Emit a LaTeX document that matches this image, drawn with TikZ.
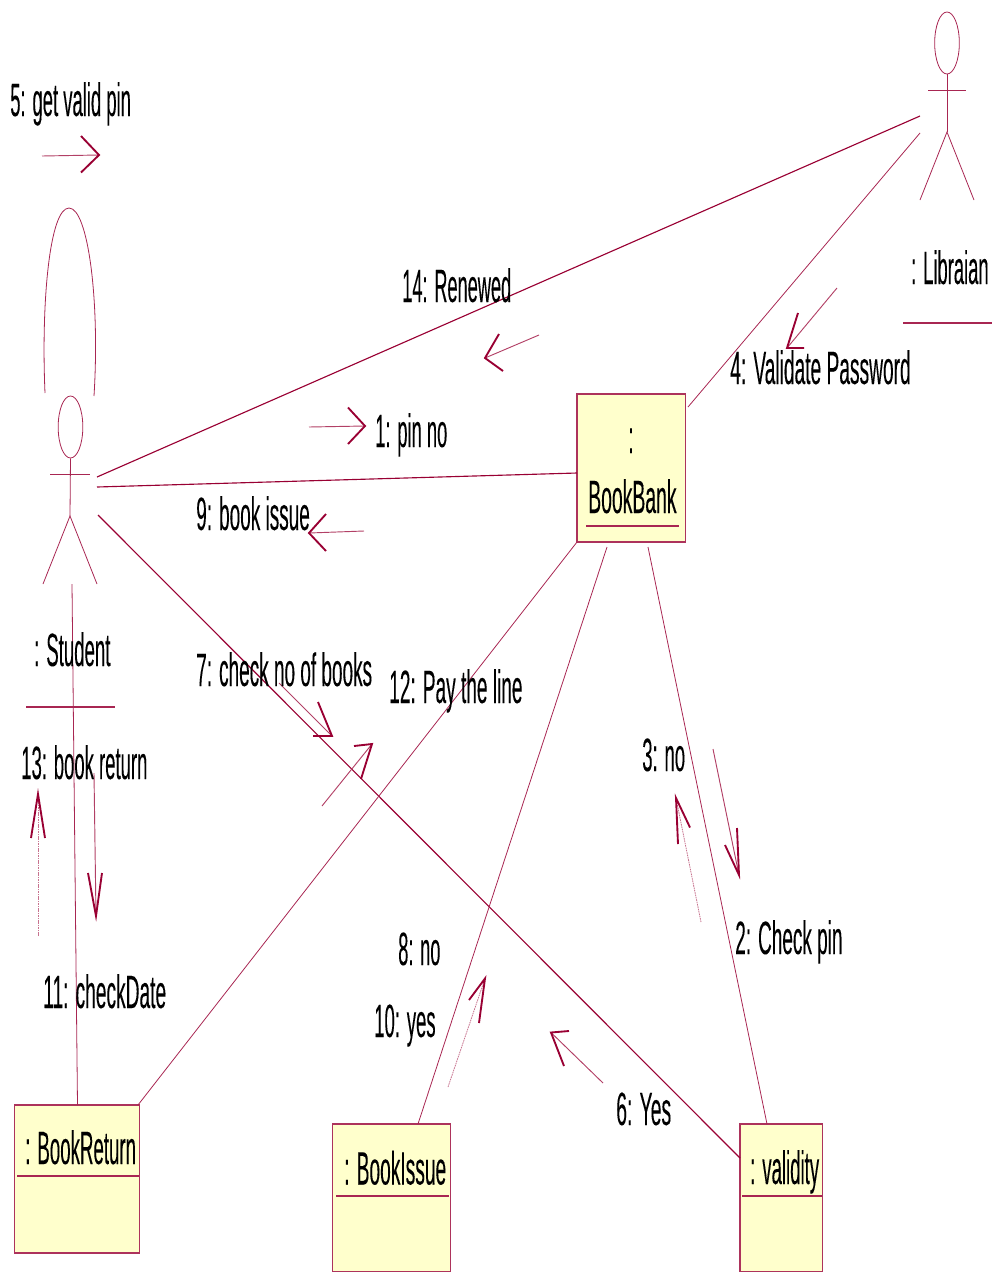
\documentclass[tikz,border=0pt]{standalone}
\usepackage{fontspec}
\usetikzlibrary{shapes.geometric}
\setmainfont[FakeStretch=0.415,FakeBold=0.12]{Liberation Sans}
\definecolor{umlred}{HTML}{990033}
\definecolor{umlfill}{HTML}{FFFFCC}
\newcommand{\msgarrow}[6][msgshaft]{%
  \coordinate (#2s) at (#3);
  \coordinate (#2t) at (#4);
  \coordinate (#2a) at (#5);
  \coordinate (#2b) at (#6);
  \draw[#1] (#2s) -- (#2t);
  \draw[barb] (#2a) -- (#2t) -- (#2b);
}
\newcommand{\sx}[2]{\scalebox{#1}[1]{#2}}
\tikzset{
  assoc/.style={draw=umlred,line width=0.85pt},
  thinassoc/.style={draw=umlred!85,line width=0.6pt},
  msgshaft/.style={draw=umlred!75,line width=0.7pt},
  msgdot/.style={draw=umlred!55,line width=0.6pt,dash pattern=on 1.2pt off 0.6pt},
  barb/.style={draw=umlred,line width=1.4pt,line join=miter},
  objbox/.style={draw=umlred!80,fill=umlfill,line width=0.9pt,inner sep=0pt,minimum height=111pt,rectangle},
  lab/.style={anchor=base west,inner sep=0pt,font=\fontsize{35}{35}\selectfont,text=black},
  uline/.style={draw=umlred!85,line width=1pt},
  actorline/.style={draw=umlred!85,line width=0.6pt},
  actorhead/.style={draw=umlred!85,line width=0.6pt,ellipse,minimum width=18.5pt,minimum height=46.5pt,inner sep=0pt}
}
\begin{document}
\begin{tikzpicture}[x=0.75pt,y=-0.75pt]
\useasboundingbox (0,0) rectangle (992,1272);
% boxes
\node[objbox,minimum width=81.4pt] (bookbank) at (631.25,468) {};
\node[objbox,minimum width=93.75pt] (bookreturn) at (77,1179) {};
\node[objbox,minimum width=88.5pt] (bookissue) at (391.5,1198) {};
\node[objbox,minimum width=61.9pt] (validity) at (781.25,1198) {};
\draw[uline] (586,526) -- (679,526);
\draw[uline] (17,1176) -- (139,1176);
\draw[uline] (336,1196) -- (449,1196);
\draw[uline] (742,1196) -- (822,1196);
% student actor
\node[actorhead] (studenthead) at (70.5,427) {};
\coordinate (studentneck) at (70,516);
\draw[actorline] (studenthead.south) -- (studentneck);
\draw[actorline] (50,474) -- (90,474);
\draw[actorline] (43,584) -- (studentneck) -- (97,584);
\draw[uline] (26,707) -- (115,707);
% self loop
\draw[actorline] (45,393) .. controls (41,300) and (50,208) .. (69,208) .. controls (88,208) and (100,300) .. (94,396);
% librarian actor
\node[actorhead] (libhead) at (947,43) {};
\coordinate (libhip) at (947,132);
\draw[actorline] (libhead.south) -- (libhip);
\draw[actorline] (928,90) -- (966,90);
\draw[actorline] (920,200) -- (libhip) -- (974,200);
\draw[uline] (903,323) -- (992,323);
% connector ends
\coordinate (sLib) at (97,477);
\coordinate (lStu) at (920,116);
\coordinate (sBank) at (97,487);
\coordinate (bStu) at (577,473);
\coordinate (sVal) at (98,515);
\coordinate (vStu) at (740,1158);
\coordinate (bLib) at (688,407);
\coordinate (lBank) at (920,133);
\coordinate (sRet) at (72,584);
\coordinate (rStu) at (77.5,1105);
\coordinate (bRet) at (577,542);
\coordinate (rBank) at (138,1105);
\coordinate (bIss) at (607,547);
\coordinate (iBank) at (418,1124);
\coordinate (bVal) at (648,547);
\coordinate (vBank) at (767,1124);
\draw[assoc] (sLib) -- (lStu);
\draw[assoc] (sBank) -- (bStu);
\draw[assoc] (sVal) -- (vStu);
\draw[thinassoc] (bLib) -- (lBank);
\draw[thinassoc] (sRet) -- (rStu);
\draw[thinassoc] (bRet) -- (rBank);
\draw[thinassoc] (bIss) -- (iBank);
\draw[thinassoc] (bVal) -- (vBank);
% messages
\msgarrow{m5}{42,156}{99,155}{81,136}{81,172.5}
\msgarrow{m14}{539,335}{485,358}{499,334}{503,371}
\msgarrow{m1}{309,427}{365,426}{348,407.5}{348,444}
\msgarrow{m9}{364,531}{309,533}{326,514}{326,551}
\msgarrow{m4}{837,288}{787,348}{798,313}{804,348}
\msgarrow{m7}{279,683}{332,736}{318,702}{313,736}
\msgarrow{m12}{322,806}{372,744}{354,746}{361,779}
\msgarrow[msgdot]{m13}{38,936}{38,794}{31,838}{45,838}
\msgarrow{m11}{94,773}{96,916}{88,873}{102,873}
\msgarrow{m2}{713,749}{739,875}{737,828}{725,845}
\msgarrow[msgdot]{m3}{701,922}{676,798}{678,844}{690,827.5}
\msgarrow[msgdot]{m10}{448,1087}{485,978.5}{469,1000}{479,1023}
\msgarrow{m6}{603,1083}{551,1032.5}{569,1031}{564,1066}
% labels
\node[lab] (t5) at (10,116) {\sx{.953}{5: get valid pin}};
\node[lab] (t14) at (402,302) {\sx{.94}{14: Renewed}};
\node[lab] (t1) at (375,447) {\sx{.947}{1: pin no}};
\node[lab] (t9) at (196,530) {\sx{.98}{9: book issue}};
\node[lab] (t4) at (730,384) {\sx{.99}{4: Validate Password}};
\node[lab] (tlib) at (911,284) {\sx{.95}{: Libraian}};
\node[lab] (tstu) at (34,666) {\sx{.96}{: Student}};
\node[lab] (t7) at (196,686) {\sx{.98}{7: check no of books}};
\node[lab] (t12) at (389,703) {\sx{.985}{12: Pay the line}};
\node[lab] (t13) at (21,779) {\sx{.955}{13: book return}};
\node[lab] (t3) at (642,771) {\sx{.955}{3: no}};
\node[lab] (t8) at (398,965) {\sx{.94}{8: no}};
\node[lab] (t10) at (374,1037) {\sx{.955}{10: yes}};
\node[lab] (t2) at (735,954) {\sx{.98}{2: Check pin}};
\node[lab] (t11) at (43,1008) {\sx{.99}{11: checkDate}};
\node[lab] (t6) at (616,1125) {6: Yes};
\node[lab] (tret) at (25,1164) {\sx{.965}{: BookReturn}};
\node[lab] (tiss) at (344,1184.5) {\sx{.99}{: BookIssue}};
\node[lab] (tval) at (750,1184) {\sx{.96}{: validity}};
\node[lab,anchor=base] (tcolon) at (631,453) {:};
\node[lab] (tbank) at (588,513) {BookBank};
\end{tikzpicture}
\end{document}
